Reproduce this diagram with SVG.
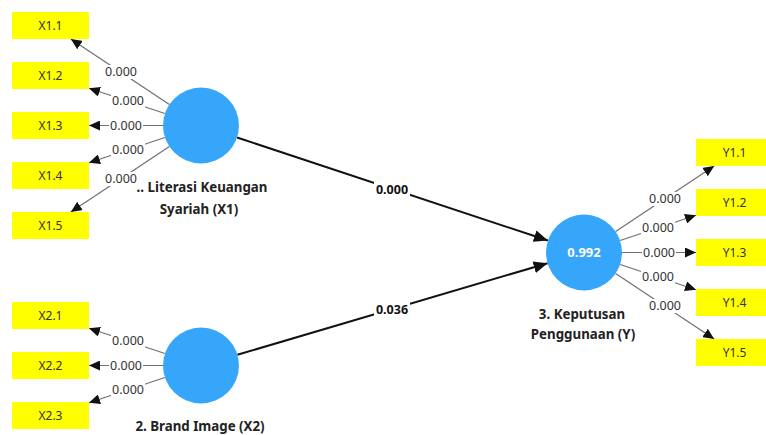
<svg xmlns="http://www.w3.org/2000/svg" width="766" height="435" viewBox="0 0 766 435">
  <style>
    .ind rect { fill: #FFFF00; }
    .ind text { font-family: "Noto Sans", "Open Sans", sans-serif; font-size: 12px; fill: #333; text-anchor: middle; }
    .lv circle { fill: #35A6F9; }
    .lv text { font-family: "Noto Sans", "Open Sans", sans-serif; font-size: 13.3px; font-weight: bold; fill: #222; text-anchor: middle; }
    .lv text.val { fill: #fff; font-size: 13px; }
    .load { stroke: #707070; stroke-width: 1.2; fill: none; marker-end: url(#ah); }
    .path { stroke: #111; stroke-width: 2; fill: none; marker-end: url(#ahb); }
    .lbl rect { fill: #fff; }
    .lbl text { font-family: "Noto Sans", "Open Sans", sans-serif; font-size: 12.5px; fill: #333; text-anchor: middle; }
    .lbl.b text { font-weight: bold; fill: #111; }
  </style>
  <defs>
    <marker id="ah" markerUnits="userSpaceOnUse" markerWidth="12" markerHeight="10" refX="11" refY="5" orient="auto">
      <path d="M0,0 L11,5 L0,10 Z" fill="#111"/>
    </marker>
    <marker id="ahb" markerUnits="userSpaceOnUse" markerWidth="15" markerHeight="12" refX="14" refY="6" orient="auto">
      <path d="M0,0 L14,6 L0,12 Z" fill="#111"/>
    </marker>
  </defs>

  <rect width="766" height="435" fill="#fff"/>

  <!-- connectors: loadings and structural paths -->
  <g id="connectors">
    <path class="load" d="M169.4,104.5 L70.8,39"/>
    <path class="load" d="M164.9,113.5 L89,88.3"/>
    <path class="load" d="M163,125.5 L89,125.5"/>
    <path class="load" d="M164.9,137.5 L89,162.7"/>
    <path class="load" d="M169.4,146.5 L70.8,212"/>

    <path class="load" d="M164.9,353.5 L89,328.3"/>
    <path class="load" d="M163,365.5 L89,365.5"/>
    <path class="load" d="M164.9,377.5 L89,402.7"/>

    <path class="load" d="M615.6,231.5 L714.2,166"/>
    <path class="load" d="M620.1,240.5 L696,215.3"/>
    <path class="load" d="M622,252.5 L696,252.5"/>
    <path class="load" d="M620.1,264.5 L696,289.7"/>
    <path class="load" d="M615.6,273.5 L714.2,339"/>

    <path class="path" d="M237.1,137.5 L547.9,240.5"/>
    <path class="path" d="M237.4,354.8 L547.6,263.2"/>
  </g>

  <!-- latent variables -->
  <g id="lv-x1" class="lv">
    <circle cx="201" cy="125.5" r="38"/>
    <text x="202" y="192">.. Literasi Keuangan</text>
    <text x="199" y="214">Syariah (X1)</text>
  </g>
  <g id="lv-x2" class="lv">
    <circle cx="201" cy="365.5" r="38"/>
    <text x="200" y="431">2. Brand Image (X2)</text>
  </g>
  <g id="lv-y" class="lv">
    <circle cx="584" cy="252.5" r="38"/>
    <text class="val" x="584" y="257">0.992</text>
    <text x="582" y="319">3. Keputusan</text>
    <text x="583" y="339">Penggunaan (Y)</text>
  </g>

  <!-- connector labels -->
  <g id="labels">
    <g class="lbl"><rect x="104" y="65" width="34" height="14"/><text x="121" y="76">0.000</text></g>
    <g class="lbl"><rect x="111" y="94" width="34" height="14"/><text x="128" y="105">0.000</text></g>
    <g class="lbl"><rect x="109" y="118.5" width="34" height="14"/><text x="126" y="129.5">0.000</text></g>
    <g class="lbl"><rect x="111" y="143" width="34" height="14"/><text x="128" y="154">0.000</text></g>
    <g class="lbl"><rect x="104" y="172" width="34" height="14"/><text x="121" y="183">0.000</text></g>

    <g class="lbl"><rect x="111" y="334" width="34" height="14"/><text x="128" y="345">0.000</text></g>
    <g class="lbl"><rect x="109" y="358.5" width="34" height="14"/><text x="126" y="369.5">0.000</text></g>
    <g class="lbl"><rect x="111" y="383" width="34" height="14"/><text x="128" y="394">0.000</text></g>

    <g class="lbl"><rect x="648" y="192" width="34" height="14"/><text x="665" y="203">0.000</text></g>
    <g class="lbl"><rect x="641" y="221" width="34" height="14"/><text x="658" y="232">0.000</text></g>
    <g class="lbl"><rect x="642" y="245.5" width="34" height="14"/><text x="659" y="256.5">0.000</text></g>
    <g class="lbl"><rect x="641" y="270" width="34" height="14"/><text x="658" y="281">0.000</text></g>
    <g class="lbl"><rect x="648" y="299" width="34" height="14"/><text x="665" y="310">0.000</text></g>

    <g class="lbl b"><rect x="374" y="182" width="36" height="15"/><text x="392" y="194">0.000</text></g>
    <g class="lbl b"><rect x="374" y="302" width="36" height="15"/><text x="392" y="314">0.036</text></g>
  </g>

  <!-- indicators -->
  <g id="x1-1" class="ind"><rect x="12" y="12" width="77" height="27"/><text x="50.5" y="30">X1.1</text></g>
  <g id="x1-2" class="ind"><rect x="12" y="62" width="77" height="27"/><text x="50.5" y="80">X1.2</text></g>
  <g id="x1-3" class="ind"><rect x="12" y="112" width="77" height="27"/><text x="50.5" y="130">X1.3</text></g>
  <g id="x1-4" class="ind"><rect x="12" y="162" width="77" height="27"/><text x="50.5" y="180">X1.4</text></g>
  <g id="x1-5" class="ind"><rect x="12" y="212" width="77" height="27"/><text x="50.5" y="230">X1.5</text></g>

  <g id="x2-1" class="ind"><rect x="12" y="302" width="77" height="27"/><text x="50.5" y="320">X2.1</text></g>
  <g id="x2-2" class="ind"><rect x="12" y="352" width="77" height="27"/><text x="50.5" y="370">X2.2</text></g>
  <g id="x2-3" class="ind"><rect x="12" y="402" width="77" height="27"/><text x="50.5" y="420">X2.3</text></g>

  <g id="y1-1" class="ind"><rect x="696" y="139" width="77" height="27"/><text x="734.5" y="157">Y1.1</text></g>
  <g id="y1-2" class="ind"><rect x="696" y="189" width="77" height="27"/><text x="734.5" y="207">Y1.2</text></g>
  <g id="y1-3" class="ind"><rect x="696" y="239" width="77" height="27"/><text x="734.5" y="257">Y1.3</text></g>
  <g id="y1-4" class="ind"><rect x="696" y="289" width="77" height="27"/><text x="734.5" y="307">Y1.4</text></g>
  <g id="y1-5" class="ind"><rect x="696" y="339" width="77" height="27"/><text x="734.5" y="357">Y1.5</text></g>
</svg>
